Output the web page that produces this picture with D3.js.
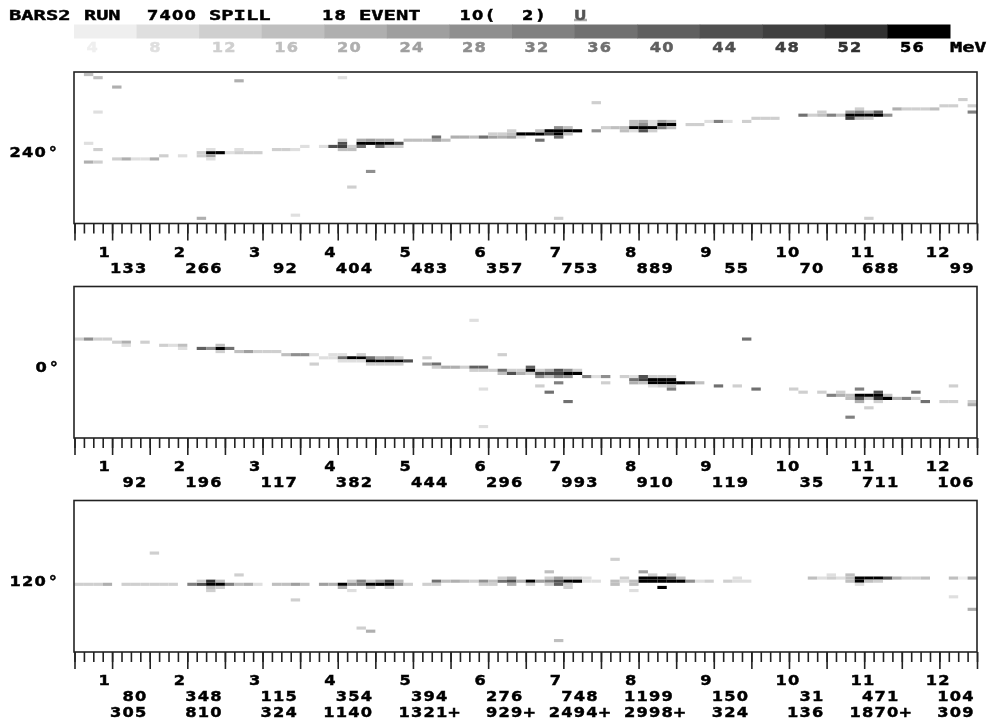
<!DOCTYPE html>
<html>
<head>
<meta charset="utf-8">
<script src="https://cdn.jsdelivr.net/npm/d3@7"></script>
<style>
  html, body { margin: 0; padding: 0; background: #fff; }
  text { font-family: "DejaVu Sans Mono", monospace; font-weight: bold; }
  text.num { font-family: "DejaVu Sans", sans-serif; }
  svg { filter: blur(0.35px); }
</style>
</head>
<body>
<div id="chart"></div>
<script>
// energy bins of the colour key, MeV
const mevLevels = [4, 8, 12, 16, 20, 24, 28, 32, 36, 40, 44, 48, 52, 56];
const headerWords = ["BARS2", "RUN", "7400", "SPILL", "18", "EVENT", "10(", "2)"];
const sectorLabels = ["1", "2", "3", "4", "5", "6", "7", "8", "9", "10", "11", "12"];

const angles = ["240°", "0°", "120°"];
const sums240 = ["133", "266", "92", "404", "483", "357", "753", "889", "55", "70", "688", "99"];
const sums0 = ["92", "196", "117", "382", "444", "296", "993", "910", "119", "35", "711", "106"];
const sums120 = ["80", "348", "115", "354", "394", "276", "748", "1199", "150", "31", "471", "104"];
const sumsTotal = ["305", "810", "324", "1140", "1321+", "929+", "2494+", "2998+", "324", "136", "1870+", "309"];

// [column, row, MeV], 96 columns by 48 rows per plane
const cells240 = [
  [1,0,16],[2,1,16],[4,4,20],[17,2,20],[28,1,8],[2,12,8],[1,22,8],[2,24,12],[1,28,20],[2,28,12],
  [4,27,12],[5,27,20],[6,27,8],[7,27,8],[8,27,20],[9,26,12],[11,26,8],
  [13,25,12],[14,25,56],[15,25,56],[13,26,12],[14,26,24],[14,27,8],[14,24,8],[13,46,20],
  [16,25,8],[17,25,12],[17,24,8],[18,25,12],[19,25,12],
  [21,24,12],[22,24,12],[23,24,8],[24,23,8],[26,23,8],[23,45,8],
  [27,23,44],[28,23,48],[28,22,44],[28,21,12],[28,24,16],[29,24,16],[29,23,12],
  [30,22,56],[31,22,56],[32,22,56],[33,22,56],[30,21,20],[31,21,24],[32,21,20],[33,21,20],
  [30,23,36],[32,23,36],[33,23,12],[34,23,12],[34,22,44],[31,31,28],[29,36,12],
  [35,21,16],[36,21,16],[37,21,16],[38,21,24],[38,20,36],[39,21,16],
  [40,20,20],[41,20,20],[42,20,16],[43,20,36],[44,20,24],[44,19,12],
  [45,19,12],[45,20,20],[46,18,12],[46,19,16],[46,20,24],[47,20,8],
  [47,19,56],[48,19,56],[49,19,56],[49,18,16],[49,21,36],[50,19,44],
  [51,17,28],[51,18,56],[51,19,56],[51,20,36],[52,17,16],[52,18,56],[52,19,16],[53,18,56],[50,18,56],
  [55,18,28],[55,9,12],[51,46,12],[56,17,12],[57,17,16],[58,17,16],[58,18,16],
  [59,16,16],[59,17,56],[59,18,8],[59,15,16],[60,15,20],[60,16,28],[60,17,56],[60,18,44],
  [61,15,8],[61,16,8],[61,17,56],[61,18,12],[62,15,24],[62,16,56],[62,17,32],[63,15,16],[63,16,56],[63,17,16],
  [65,16,12],[66,16,12],[67,15,8],[68,15,32],[69,15,8],[71,15,12],[72,14,12],[73,14,12],[74,14,12],
  [77,13,36],[78,13,12],[79,12,12],[79,13,16],[80,13,32],[81,13,16],
  [82,12,24],[82,13,56],[82,14,48],[83,11,12],[83,12,32],[83,13,56],[83,14,16],
  [84,12,20],[84,13,56],[84,14,12],[85,12,40],[85,13,56],[86,13,28],
  [87,11,20],[88,11,12],[89,11,12],[90,11,12],[91,11,16],[92,10,12],[93,10,12],
  [94,8,12],[95,10,12],[95,12,32],[84,46,12]
];
const cells0 = [
  [0,16,12],[1,16,28],[2,16,12],[3,16,12],[4,17,12],[5,17,20],[5,18,8],[7,17,12],[9,18,12],[10,18,8],[11,18,16],[11,19,8],
  [13,19,40],[14,19,28],[15,19,56],[15,18,16],[15,20,12],[16,19,36],[17,20,16],[18,20,24],[19,20,12],[20,20,12],[21,20,12],
  [22,21,16],[23,21,28],[24,21,28],[25,21,8],[25,24,12],[26,22,8],[27,22,8],[27,21,8],
  [28,21,8],[28,22,36],[28,23,8],[29,22,56],[30,22,56],[30,21,12],[29,23,8],[30,23,8],
  [31,22,36],[31,23,56],[31,24,12],[32,23,56],[33,23,56],[34,23,56],[32,22,20],[33,22,24],[34,22,12],[32,24,12],[33,24,12],[34,24,12],
  [35,23,44],[37,22,12],[37,24,24],[38,24,36],[38,25,12],[39,25,20],[40,25,20],[41,25,12],
  [42,25,40],[43,25,40],[42,26,12],[43,26,12],[44,26,12],[45,21,12],[45,26,36],[45,27,16],
  [43,32,8],[43,44,8],[42,10,8],
  [46,26,12],[46,27,44],[47,26,12],[47,27,20],[48,25,40],[48,26,56],[48,27,12],
  [49,26,12],[49,27,48],[49,28,28],[49,31,12],[50,26,20],[50,27,48],[50,28,16],[50,33,36],
  [51,26,44],[51,27,48],[51,28,32],[51,30,32],[52,26,28],[52,27,56],[52,28,28],[52,36,36],[53,26,12],[53,27,56],
  [54,28,32],[55,28,8],[56,28,28],[56,30,12],[58,28,12],
  [59,28,8],[59,29,36],[59,30,20],[60,28,44],[60,29,48],[60,30,16],
  [61,28,12],[61,29,56],[61,30,56],[62,28,12],[62,29,56],[62,30,56],[63,28,12],[63,29,56],[63,30,56],
  [61,31,8],[62,31,12],[63,31,16],[63,32,32],[64,30,56],[65,30,44],[66,30,16],
  [68,31,36],[70,31,12],[71,16,36],[72,32,36],[76,32,12],[77,33,12],[79,33,12],
  [80,34,32],[81,33,12],[81,34,20],[82,34,16],[82,35,16],[82,41,32],
  [83,32,32],[83,34,56],[83,35,44],[83,36,20],[84,34,56],[84,35,16],[84,38,12],
  [85,33,44],[85,34,56],[85,35,52],[85,36,12],[86,34,16],[86,35,56],[87,35,20],[88,35,32],
  [89,33,36],[89,35,12],[90,36,36],[92,36,12],[93,36,12],[93,31,12],[95,36,12],[95,37,20]
];
const cells120 = [
  [0,26,12],[1,26,12],[2,26,12],[3,26,20],[5,26,12],[6,26,12],[7,26,12],[8,26,12],[9,26,12],[10,26,12],
  [12,26,32],[13,26,44],[13,25,12],[14,25,52],[14,26,56],[14,27,16],[14,28,12],[15,25,16],[15,26,56],[15,27,12],
  [16,26,32],[17,26,16],[17,23,12],[18,26,20],[19,26,8],[21,26,16],[22,26,16],[23,26,24],[23,31,12],[24,26,16],
  [8,16,12],[26,26,24],[27,26,20],[28,26,56],[28,27,20],[29,25,12],[29,26,28],[29,28,8],
  [30,25,32],[30,26,32],[30,40,12],[31,25,12],[31,26,56],[31,27,12],[31,41,20],
  [32,25,24],[32,26,56],[33,25,48],[33,26,56],[33,27,12],[34,25,16],[34,26,28],[35,26,12],
  [37,26,12],[38,25,36],[38,26,12],[39,25,16],[40,25,20],[41,25,16],[42,25,12],[43,25,28],[43,26,12],[44,25,16],[44,26,12],
  [45,25,36],[45,24,12],[46,24,20],[46,25,44],[46,26,20],[47,25,20],[48,25,56],[48,26,12],[49,25,24],
  [50,22,16],[50,24,12],[50,25,32],[50,26,12],[51,24,24],[51,25,44],[51,26,40],[51,44,16],
  [52,24,12],[52,25,56],[52,26,12],[52,27,12],[53,24,12],[53,25,56],[54,24,8],[54,25,8],[55,25,8],
  [57,18,12],[57,25,16],[57,26,16],[58,24,12],[58,25,8],[59,25,16],[59,26,16],[59,28,8],
  [60,22,24],[60,24,56],[60,25,56],[61,23,12],[61,24,56],[61,25,56],[62,24,56],[62,25,56],[62,27,56],
  [63,23,12],[63,24,44],[63,25,56],[64,24,16],[64,25,56],[65,25,28],[66,25,8],[67,25,12],
  [69,25,12],[70,24,8],[70,25,8],[71,25,8],
  [78,24,16],[79,24,8],[80,23,8],[80,24,12],[81,24,8],[82,23,16],[82,24,16],[82,25,16],
  [83,24,56],[83,25,56],[83,26,8],[84,24,56],[84,25,16],[85,24,56],[85,25,12],[86,24,44],[87,24,20],
  [88,24,12],[89,24,12],[90,24,16],[93,24,16],[93,30,8],[94,24,4],[95,24,24],[95,34,20]
];

const shades = ["#efefef", "#dfdfdf", "#cfcfcf", "#bfbfbf", "#afafaf", "#9f9f9f", "#8f8f8f",
                "#808080", "#707070", "#606060", "#505050", "#404040", "#303030", "#000000"];
const charWidth = 12.5;
const numStretch = 1.12;
const frame = "#222";

const shade = d3.scaleOrdinal(mevLevels, shades);

const svg = d3.select("#chart").append("svg")
      .attr("width", 990)
      .attr("height", 724);

// the original font is a wide bitmap one, so every label sits on a fixed character grid.
// numbers use DejaVu Sans because the mono font puts a dot in its zero
function label(x, y, str, fill) {
    const t = svg.append("text")
        .attr("font-size", 14.5)
        .style("fill", fill || "#000")
        .style("stroke", fill || "#000")
        .style("stroke-width", 0.45)
        .text(str);
    if (/^[0-9()+°]+$/.test(str)) {
        const cells = Array.from(str, (c, i) => (i + 0.5) * charWidth / numStretch).join(" ");
        t.classed("num", true)
            .attr("transform", `translate(${x},${y}) scale(${numStretch},1)`)
            .attr("x", cells)
            .attr("text-anchor", "middle");
    } else {
        t.attr("x", x)
            .attr("y", y)
            .attr("textLength", str.length * charWidth - 1)
            .attr("lengthAdjust", "spacingAndGlyphs");
    }
    return t;
}

// header line
const headerSlots = [0, 6, 11, 16, 25, 28, 36, 41];
headerWords.forEach((w, i) => label(9 + headerSlots[i] * charWidth, 20, w));
svg.append("line").attr("x1", 574).attr("x2", 587).attr("y1", 20).attr("y2", 20)
    .attr("stroke", "#aaa").attr("stroke-width", 2.5);
label(574.5, 19.5, "U", "#555");

// colour key
const keyX = d3.scaleBand().domain(mevLevels).range([74, 950]);
svg.selectAll(".key")
    .data(mevLevels)
    .enter().append("rect")
    .attr("class", "key")
    .attr("x", d => keyX(d))
    .attr("y", 24.5)
    .attr("width", keyX.bandwidth() + 0.5)
    .attr("height", 14)
    .attr("fill", d => shade(d));
mevLevels.forEach(d => label(keyX(d) + 12, 51.5, String(d), shade(d)));
label(950, 51.5, "MeV");

const xScale = d3.scaleLinear().domain([0, 96]).range([74.5, 977]);
const panelHeight = 151;

function drawPlane(top, cells, angle, angleX, sumRows) {
    const yScale = d3.scaleLinear().domain([0, 48]).range([top + 1, top + panelHeight]);
    const g = svg.append("g");

    g.selectAll("rect")
        .data(cells)
        .enter().append("rect")
        .attr("x", d => xScale(d[0]))
        .attr("y", d => yScale(d[1]))
        .attr("width", xScale(1) - xScale(0))
        .attr("height", yScale(1) - yScale(0))
        .attr("fill", d => shade(d[2]));

    g.append("rect")
        .attr("x", xScale(0) - 0.5)
        .attr("y", top)
        .attr("width", xScale(96) - xScale(0) + 0.5)
        .attr("height", panelHeight + 0.5)
        .attr("fill", "none")
        .attr("stroke", frame)
        .attr("stroke-width", 1.6);

    // 24 long ticks with 3 short ones between
    const base = top + panelHeight + 0.5;
    const minor = d3.axisBottom(xScale).tickValues(d3.range(0, 97)).tickSize(10).tickFormat("");
    const major = d3.axisBottom(xScale).tickValues(d3.range(0, 97, 4)).tickSize(17).tickFormat("");
    [minor, major].forEach(axis => {
        const a = svg.append("g").attr("transform", `translate(0,${base})`).call(axis);
        a.select(".domain").remove();
        a.selectAll("line").attr("stroke", frame).attr("stroke-width", 1.6);
    });

    label(angleX, top + 85, angle);

    sectorLabels.forEach((s, i) => {
        label(98 + i * 75.2, base + 33, s);
    });
    sumRows.forEach((row, j) => {
        row.forEach((s, i) => {
            const digits = s.replace("+", "").length;
            label(147 + i * 75.2 - digits * charWidth, base + 49 + j * 15.7, s);
        });
    });
}

drawPlane(72, cells240, angles[0], 9, [sums240]);
drawPlane(286.5, cells0, angles[1], 35, [sums0]);
drawPlane(500.5, cells120, angles[2], 9, [sums120, sumsTotal]);
</script>
</body>
</html>
